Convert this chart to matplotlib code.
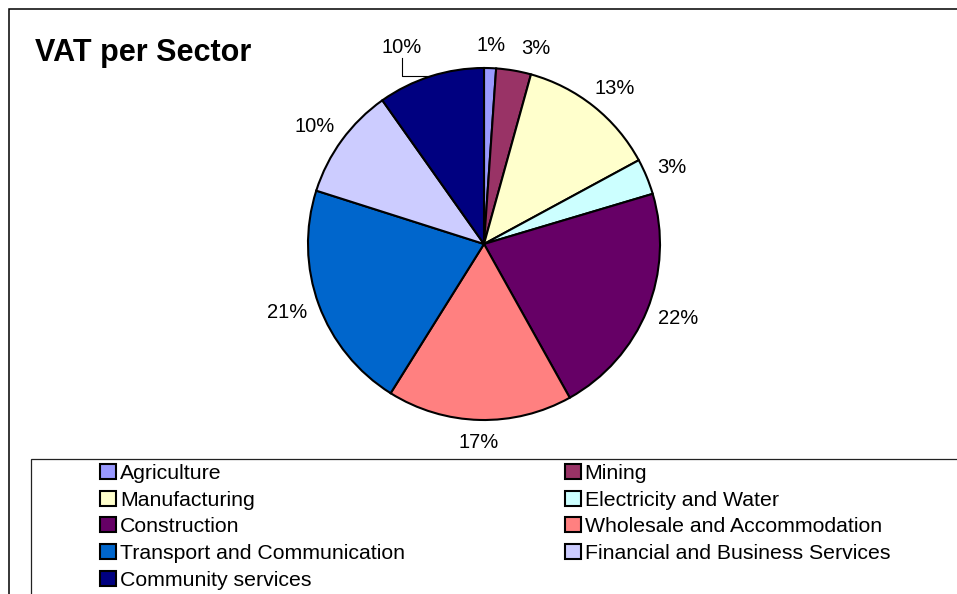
import numpy as np
import matplotlib
matplotlib.use('Agg')
import matplotlib.pyplot as plt
from matplotlib.patches import Rectangle

plt.rcParams['font.family'] = ['Liberation Sans', 'DejaVu Sans']

# Data (share of VAT, %)
sectors = ['Agriculture', 'Mining', 'Manufacturing', 'Electricity and Water',
           'Construction', 'Wholesale and Accommodation',
           'Transport and Communication', 'Financial and Business Services',
           'Community services']
shares = [1.1, 3.2, 12.8, 3.3, 21.5, 17.0, 21.0, 10.3, 9.8]
colors = ['#9999FF', '#993366', '#FFFFCC', '#CCFFFF', '#660066',
          '#FF8080', '#0066CC', '#CCCCFF', '#000080']

W, H = 957, 594
fig = plt.figure(figsize=(W / 100, H / 100), dpi=100)
fig.patch.set_facecolor('white')

# outer chart frame and legend frame
fig.patches.append(Rectangle((9 / W, -0.1), 1.2, 1.1 - 9 / H, transform=fig.transFigure,
                             fill=False, edgecolor='black', linewidth=1.1))
fig.patches.append(Rectangle((31 / W, -0.1), 1.2, 0.1 + 1 - 459 / H, transform=fig.transFigure,
                             fill=False, edgecolor='#222222', linewidth=0.9))

# pie axes: centre (484, 244) px, radius 176 px
cx, cy, r = 484, 244, 176
ax = fig.add_axes([(cx - r) / W, (H - cy - r) / H, 2 * r / W, 2 * r / H])
wedges, _ = ax.pie(shares, colors=colors, startangle=90, counterclock=False,
                   wedgeprops=dict(edgecolor='black', linewidth=1.5))
ax.set_xlim(-1, 1)
ax.set_ylim(-1, 1)
ax.axis('off')

fig.text(35 / W, 1 - 61 / H, 'VAT per Sector', fontsize=22, fontweight='bold',
         va='baseline', ha='left')

# percentage labels, placed outside the rim like Excel does
fig.canvas.draw()
renderer = fig.canvas.get_renderer()
R = 1.075
labels = []
for i, (w, v) in enumerate(zip(wedges, shares)):
    ang = np.deg2rad((w.theta1 + w.theta2) / 2)
    c, s = np.cos(ang), np.sin(ang)
    t = ax.text(R * c, R * s, f'{round(v):d}%', fontsize=14.5, ha='center', va='center')
    bb = t.get_window_extent(renderer)
    hw, hh = bb.width / 2 / r, bb.height / 2 / r
    t.set_position((R * c + hw * c, R * s + hh * s))
    labels.append((t, c, s))

# crowded labels at the top
t, c, s = labels[1]
x, y = t.get_position()
t.set_position((x + 17 / r, y))
t, c, s = labels[8]
x, y = t.get_position()
lx, ly = x - 19 / r, y + 7 / r
t.set_position((lx, ly))
ex, ey = c, s
ax.plot([lx, lx, ex], [ly - 10 / r, ey, ey], color='black', linewidth=0.8, clip_on=False)

# legend, two columns filled row-wise
order = [0, 2, 4, 6, 8, 1, 3, 5, 7]
leg = fig.legend([wedges[i] for i in order], [sectors[i] for i in order],
                 loc='upper left', bbox_to_anchor=(100 / W, 1 - 464 / H),
                 ncol=2, frameon=False, fontsize=15.3, handlelength=0.75, handleheight=0.7,
                 handletextpad=0.2, labelspacing=0.36, columnspacing=7.5,
                 borderpad=0, borderaxespad=0)

fig.savefig('out.png', dpi=100)
